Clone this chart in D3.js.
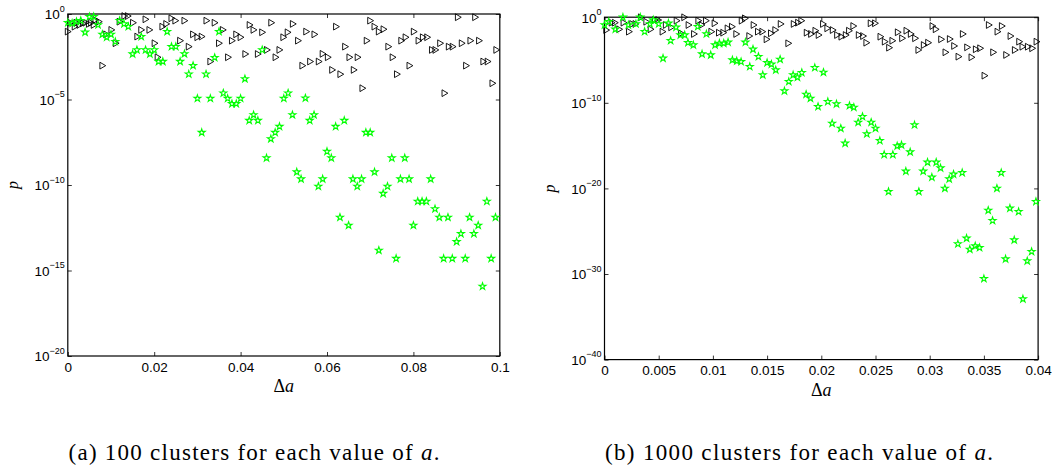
<!DOCTYPE html>
<html>
<head>
<meta charset="utf-8">
<script src="https://cdn.jsdelivr.net/npm/d3@7/dist/d3.min.js"></script>
<style>
  html, body { margin: 0; padding: 0; background: #fff; }
  svg { display: block; }
</style>
</head>
<body>
<svg id="chart" width="1053" height="466"></svg>
<script>
// ---------------- DATA ----------------
// Panel (a): 100 clusters for each value of a
const xTicksA = [0, 0.02, 0.04, 0.06, 0.08, 0.1];
const yTickExpA = [-20, -15, -10, -5, 0];
const starDaA = [0.000,0.001,0.002,0.003,0.004,0.005,0.006,0.007,0.008,0.009,
  0.010,0.011,0.012,0.013,0.014,0.015,0.016,0.017,0.018,0.019,
  0.020,0.021,0.022,0.023,0.024,0.025,0.026,0.027,0.028,0.029,
  0.030,0.031,0.032,0.033,0.034,0.035,0.036,0.037,0.038,0.039,
  0.040,0.041,0.042,0.043,0.044,0.045,0.046,0.047,0.048,0.049,
  0.050,0.051,0.052,0.053,0.054,0.055,0.056,0.057,0.058,0.059,
  0.060,0.061,0.062,0.063,0.064,0.065,0.066,0.067,0.068,0.069,
  0.070,0.071,0.072,0.073,0.074,0.075,0.076,0.077,0.078,0.079,
  0.080,0.081,0.082,0.083,0.084,0.085,0.086,0.087,0.088,0.089,
  0.090,0.091,0.092,0.093,0.094,0.095,0.096,0.097,0.098,0.099];
const starLogPA = [-0.51,-0.54,-0.45,-0.39,-1.07,-0.16,-0.16,-0.64,-1.19,-1.36,
  -1.19,-1.62,-0.39,-0.58,-0.74,-2.34,-2.10,-1.32,-2.10,-2.34,
  -2.10,-2.78,-2.78,-1.03,-1.91,-1.91,-2.78,-2.33,-3.52,-3.02,
  -4.94,-6.93,-3.52,-4.94,-2.55,-1.03,-4.63,-4.94,-5.25,-5.25,
  -4.94,-3.79,-6.23,-5.90,-6.23,-2.10,-8.42,-7.30,-6.93,-6.58,
  -4.94,-4.63,-5.90,-9.24,-9.65,-4.92,-6.23,-5.90,-10.08,-9.65,
  -8.04,-8.42,-6.58,-11.89,-6.23,-12.36,-9.65,-10.08,-9.65,-6.93,
  -6.93,-9.24,-13.82,-10.50,-10.08,-8.42,-14.30,-9.65,-8.42,-9.65,
  -12.36,-10.96,-10.96,-10.96,-9.65,-11.40,-11.89,-14.30,-11.89,-14.30,
  -13.32,-12.85,-14.30,-11.89,-12.85,-12.36,-15.93,-10.96,-14.30,-11.89];
const triDaA = [0.0001,0.0007,0.0017,0.0021,0.0028,0.0036,0.0042,0.0050,0.0055,0.0061,
  0.0065,0.0073,0.0081,0.0090,0.0102,0.0112,0.0121,0.0132,0.0140,0.0152,
  0.0162,0.0171,0.0181,0.0190,0.0202,0.0209,0.0220,0.0229,0.0241,0.0250,
  0.0261,0.0271,0.0281,0.0291,0.0301,0.0311,0.0322,0.0331,0.0341,0.0351,
  0.0360,0.0372,0.0381,0.0391,0.0401,0.0412,0.0422,0.0431,0.0441,0.0451,
  0.0462,0.0472,0.0482,0.0491,0.0500,0.0510,0.0522,0.0534,0.0544,0.0553,
  0.0562,0.0572,0.0582,0.0591,0.0603,0.0613,0.0622,0.0632,0.0643,0.0653,
  0.0663,0.0672,0.0683,0.0693,0.0701,0.0711,0.0721,0.0732,0.0743,0.0753,
  0.0763,0.0773,0.0783,0.0792,0.0802,0.0813,0.0823,0.0833,0.0844,0.0852,
  0.0863,0.0873,0.0883,0.0892,0.0904,0.0913,0.0923,0.0933,0.0944,0.0953,
  0.0963,0.0973,0.0984,0.0993];
const triLogPA = [-1.03,-0.51,-0.74,-0.51,-0.64,-0.54,-0.51,-0.58,-0.51,-0.64,
  -0.35,-0.45,-3.02,-1.19,-0.93,-1.71,-0.45,-0.12,-0.12,-0.51,
  -1.32,-0.93,-0.31,-0.93,-1.71,-2.53,-0.74,-0.58,-0.25,-0.39,
  -1.56,-0.39,-1.91,-1.19,-1.36,-1.32,-0.39,-2.78,-0.51,-1.71,
  -0.93,-2.53,-1.56,-1.19,-1.36,-2.34,-0.64,-0.93,-2.34,-1.07,
  -2.10,-0.51,-2.53,-2.10,-1.36,-1.07,-0.58,-1.56,-3.02,-1.03,
  -2.78,-1.19,-2.78,-2.33,-2.53,-3.27,-0.74,-3.52,-1.91,-2.53,
  -3.27,-2.53,-4.34,-1.56,-0.39,-0.74,-1.03,-0.89,-1.91,-2.53,
  -3.52,-1.56,-1.36,-3.02,-1.03,-1.56,-1.36,-1.36,-2.10,-2.10,
  -1.71,-4.63,-1.91,-1.91,-0.19,-1.71,-3.02,-1.56,-0.19,-1.56,
  -2.78,-2.78,-4.05,-2.10];

// Panel (b): 1000 clusters for each value of a
const xTicksB = [0, 0.005, 0.01, 0.015, 0.02, 0.025, 0.03, 0.035, 0.04];
const yTickExpB = [-40, -30, -20, -10, 0];
const starDaB = [0.0000,0.0004,0.0010,0.0017,0.0022,0.0029,0.0033,0.0037,0.0042,0.0045,
  0.0050,0.0054,0.0059,0.0061,0.0066,0.0070,0.0074,0.0077,0.0082,0.0086,
  0.0090,0.0094,0.0098,0.0102,0.0106,0.0110,0.0114,0.0118,0.0122,0.0126,
  0.0130,0.0134,0.0137,0.0142,0.0146,0.0150,0.0154,0.0158,0.0162,0.0166,
  0.0170,0.0174,0.0178,0.0182,0.0186,0.0190,0.0194,0.0197,0.0202,0.0206,
  0.0210,0.0214,0.0218,0.0222,0.0226,0.0230,0.0234,0.0238,0.0242,0.0246,
  0.0250,0.0254,0.0258,0.0262,0.0266,0.0270,0.0274,0.0278,0.0282,0.0286,
  0.0290,0.0294,0.0298,0.0302,0.0306,0.0310,0.0314,0.0318,0.0322,0.0326,
  0.0330,0.0334,0.0337,0.0342,0.0346,0.0350,0.0354,0.0358,0.0362,0.0366,
  0.0370,0.0374,0.0378,0.0382,0.0386,0.0390,0.0394,0.0398];
const starLogPB = [-0.91,-0.53,-1.41,-0.01,-0.91,-0.79,-0.01,-1.69,-0.79,-0.33,
  -0.79,-4.80,-0.71,-2.74,-1.18,-2.08,-2.08,-2.98,-3.25,-1.11,
  -4.30,-1.96,-4.42,-3.25,-3.05,-3.05,-2.93,-5.00,-5.12,-5.20,
  -2.93,-5.78,-3.75,-4.61,-6.75,-5.32,-5.50,-6.17,-4.92,-8.62,
  -7.53,-6.75,-7.02,-6.48,-9.01,-9.48,-5.90,-10.45,-6.44,-9.87,
  -12.40,-10.14,-12.98,-14.73,-10.34,-10.53,-12.28,-11.62,-13.64,-12.28,
  -12.98,-14.43,-16.06,-20.38,-16.06,-15.05,-14.93,-18.00,-15.75,-12.59,
  -20.38,-18.00,-16.95,-18.70,-16.95,-17.62,-19.99,-18.90,-18.35,-26.49,
  -18.17,-25.83,-27.12,-26.73,-26.93,-30.55,-22.56,-23.77,-19.99,-18.17,
  -28.25,-22.32,-26.03,-22.72,-32.92,-28.48,-27.39,-21.55];
const triDaB = [0.0002,0.0007,0.0010,0.0014,0.0018,0.0023,0.0026,0.0029,0.0034,0.0039,
  0.0043,0.0047,0.0050,0.0054,0.0057,0.0062,0.0067,0.0071,0.0074,0.0078,
  0.0083,0.0087,0.0090,0.0094,0.0099,0.0102,0.0106,0.0110,0.0114,0.0118,
  0.0122,0.0127,0.0130,0.0134,0.0138,0.0142,0.0146,0.0150,0.0154,0.0158,
  0.0163,0.0170,0.0175,0.0179,0.0182,0.0187,0.0191,0.0195,0.0198,0.0202,
  0.0206,0.0211,0.0215,0.0219,0.0223,0.0226,0.0230,0.0235,0.0239,0.0242,
  0.0246,0.0250,0.0255,0.0259,0.0263,0.0266,0.0271,0.0275,0.0279,0.0283,
  0.0287,0.0290,0.0295,0.0299,0.0303,0.0306,0.0311,0.0315,0.0319,0.0323,
  0.0327,0.0331,0.0335,0.0339,0.0343,0.0347,0.0351,0.0355,0.0359,0.0363,
  0.0367,0.0371,0.0375,0.0379,0.0383,0.0386,0.0391,0.0395,0.0399];
const triLogPB = [-1.50,-0.64,-0.64,-1.41,-0.64,-1.69,-0.79,-0.79,-0.01,-0.53,
  -1.41,-0.33,-0.33,-1.69,-0.91,-1.18,-0.41,-1.88,-0.01,-0.91,
  -1.96,-0.41,-0.91,-0.41,-1.69,-0.71,-1.81,-1.81,-1.30,-1.11,
  -1.96,-0.41,-0.13,-2.20,-0.91,-1.69,-1.69,-2.58,-1.88,-1.50,
  -0.79,-3.05,-0.79,-0.64,-0.41,-1.81,-1.96,-1.58,-2.08,-0.79,
  -1.30,-1.50,-2.08,-2.28,-2.08,-1.58,-1.03,-2.08,-2.20,-2.98,
  -0.71,-0.71,-2.28,-2.86,-3.56,-2.75,-1.76,-2.46,-1.58,-1.96,
  -2.46,-3.83,-3.25,-2.98,-1.03,-1.41,-2.58,-4.10,-2.55,-3.36,
  -4.61,-1.96,-3.52,-4.68,-3.75,-3.63,-6.83,-0.91,-4.10,-1.69,
  -1.03,-4.41,-2.20,-3.83,-2.86,-3.45,-3.45,-3.63,-2.86];

const captionA = ["(a) 100 clusters for each value of ", "a", "."];
const captionB = ["(b) 1000 clusters for each value of ", "a", "."];

// ---------------- DRAWING ----------------
const svg = d3.select("#chart");
svg.append("rect").attr("width", 1053).attr("height", 466).attr("fill", "#fff");

const SANS = "'Liberation Sans', Arial, Helvetica, sans-serif";
const SERIF = "'Liberation Serif', 'DejaVu Serif', 'Times New Roman', serif";

// right-pointing triangle symbol, bbox centred
const triRight = {
  draw(ctx, size) {
    const h = Math.sqrt(size) * 1.1, w = h * 0.86;
    ctx.moveTo(-w / 2, -h / 2);
    ctx.lineTo(w / 2, 0);
    ctx.lineTo(-w / 2, h / 2);
    ctx.closePath();
  }
};

function panel(cfg) {
  const x = d3.scaleLinear().domain([0, cfg.xMax]).range([cfg.left, cfg.right]);
  const y = d3.scaleLog().domain([Math.pow(10, cfg.yMinExp), 1]).range([cfg.bottom, cfg.top]);
  const g = svg.append("g");

  const fmtX = d => d === 0 ? "0" : String(+d.toFixed(4));
  const yTicks = cfg.yTickExp.map(e => Math.pow(10, e));

  // axes with inward ticks on all four sides
  const gb = g.append("g").attr("transform", `translate(0,${cfg.bottom})`)
    .call(d3.axisBottom(x).tickValues(cfg.xTicks).tickSizeInner(-4).tickSizeOuter(0)
      .tickPadding(6).tickFormat(fmtX));
  gb.selectAll("text").attr("font-family", SANS).attr("font-size", 13.5).attr("fill", "#000").attr("dy", "0.72em");

  g.append("g").attr("transform", `translate(0,${cfg.top})`)
    .call(d3.axisTop(x).tickValues(cfg.xTicks).tickSizeInner(-4).tickSizeOuter(0).tickFormat(""));

  const gl = g.append("g").attr("transform", `translate(${cfg.left},0)`)
    .call(d3.axisLeft(y).tickValues(yTicks).tickSizeInner(-4).tickSizeOuter(0).tickPadding(3));
  gl.selectAll(".tick text").each(function (d) {
    const t = d3.select(this);
    const e = Math.round(Math.log10(d));
    t.text(null).attr("font-family", SANS).attr("font-size", 13.5).attr("fill", "#000").attr("dy", "0.36em");
    t.append("tspan").text("10");
    t.append("tspan").attr("font-size", 9).attr("dy", "-0.85em")
      .text(e === 0 ? "0" : "\u2212" + Math.abs(e));
  });

  g.append("g").attr("transform", `translate(${cfg.right},0)`)
    .call(d3.axisRight(y).tickValues(yTicks).tickSizeInner(-4).tickSizeOuter(0).tickFormat(""));

  g.selectAll(".domain").remove();
  g.selectAll(".tick line").attr("stroke", "#000").attr("stroke-width", 0.8);

  // frame
  g.append("rect")
    .attr("x", cfg.left).attr("y", cfg.top)
    .attr("width", cfg.right - cfg.left).attr("height", cfg.bottom - cfg.top)
    .attr("fill", "none").attr("stroke", "#000").attr("stroke-width", 1.2);

  // markers
  const clipId = "clip" + cfg.id;
  svg.append("clipPath").attr("id", clipId).append("rect")
    .attr("x", cfg.left - 6).attr("y", cfg.top - 6)
    .attr("width", cfg.right - cfg.left + 12).attr("height", cfg.bottom - cfg.top + 12);
  const gm = g.append("g").attr("clip-path", `url(#${clipId})`);

  const tri = d3.symbol().type(triRight).size(38);
  gm.selectAll("path.tri").data(cfg.triDa.map((d, i) => [d, cfg.triLogP[i]]))
    .join("path").attr("class", "tri")
    .attr("d", tri)
    .attr("transform", d => `translate(${x(d[0])},${y(Math.pow(10, d[1]))})`)
    .attr("fill", "none").attr("stroke", "#000").attr("stroke-width", 0.9);

  const star = d3.symbol().type(d3.symbolStar).size(15);
  gm.selectAll("path.star").data(cfg.starDa.map((d, i) => [d, cfg.starLogP[i]]))
    .join("path").attr("class", "star")
    .attr("d", star)
    .attr("transform", d => `translate(${x(d[0])},${y(Math.pow(10, d[1]))})`)
    .attr("fill", "none").attr("stroke", "#00ff00").attr("stroke-width", 1.1);

  // axis labels
  const xl = g.append("text")
    .attr("x", (cfg.left + cfg.right) / 2).attr("y", cfg.bottom + 36)
    .attr("text-anchor", "middle").attr("font-family", SERIF).attr("font-size", 18);
  xl.append("tspan").text("\u0394");
  xl.append("tspan").attr("font-style", "italic").text("a");

  g.append("text")
    .attr("transform", `translate(${cfg.left - 50},${(cfg.top + cfg.bottom) / 2}) rotate(-90)`)
    .attr("text-anchor", "middle").attr("font-family", SERIF).attr("font-style", "italic")
    .attr("font-size", 16).text("p");

  // caption
  const cap = g.append("text")
    .attr("x", cfg.capX).attr("y", 460)
    .attr("text-anchor", "middle").attr("font-family", SERIF).attr("font-size", 23)
    .attr("textLength", cfg.capW).attr("lengthAdjust", "spacing");
  cap.append("tspan").text(cfg.caption[0]);
  cap.append("tspan").attr("font-style", "italic").text(cfg.caption[1]);
  cap.append("tspan").text(cfg.caption[2]);
}

panel({
  id: "A", left: 67.8, right: 499.8, top: 14, bottom: 356,
  xMax: 0.1, yMinExp: -20, xTicks: xTicksA, yTickExp: yTickExpA,
  starDa: starDaA, starLogP: starLogPA, triDa: triDaA, triLogP: triLogPA,
  caption: captionA, capX: 254, capW: 371
});
panel({
  id: "B", left: 604.5, right: 1038.1, top: 17.2, bottom: 359.6,
  xMax: 0.04, yMinExp: -40, xTicks: xTicksB, yTickExp: yTickExpB,
  starDa: starDaB, starLogP: starLogPB, triDa: triDaB, triLogP: triLogPB,
  caption: captionB, capX: 799, capW: 388
});
</script>
</body>
</html>
